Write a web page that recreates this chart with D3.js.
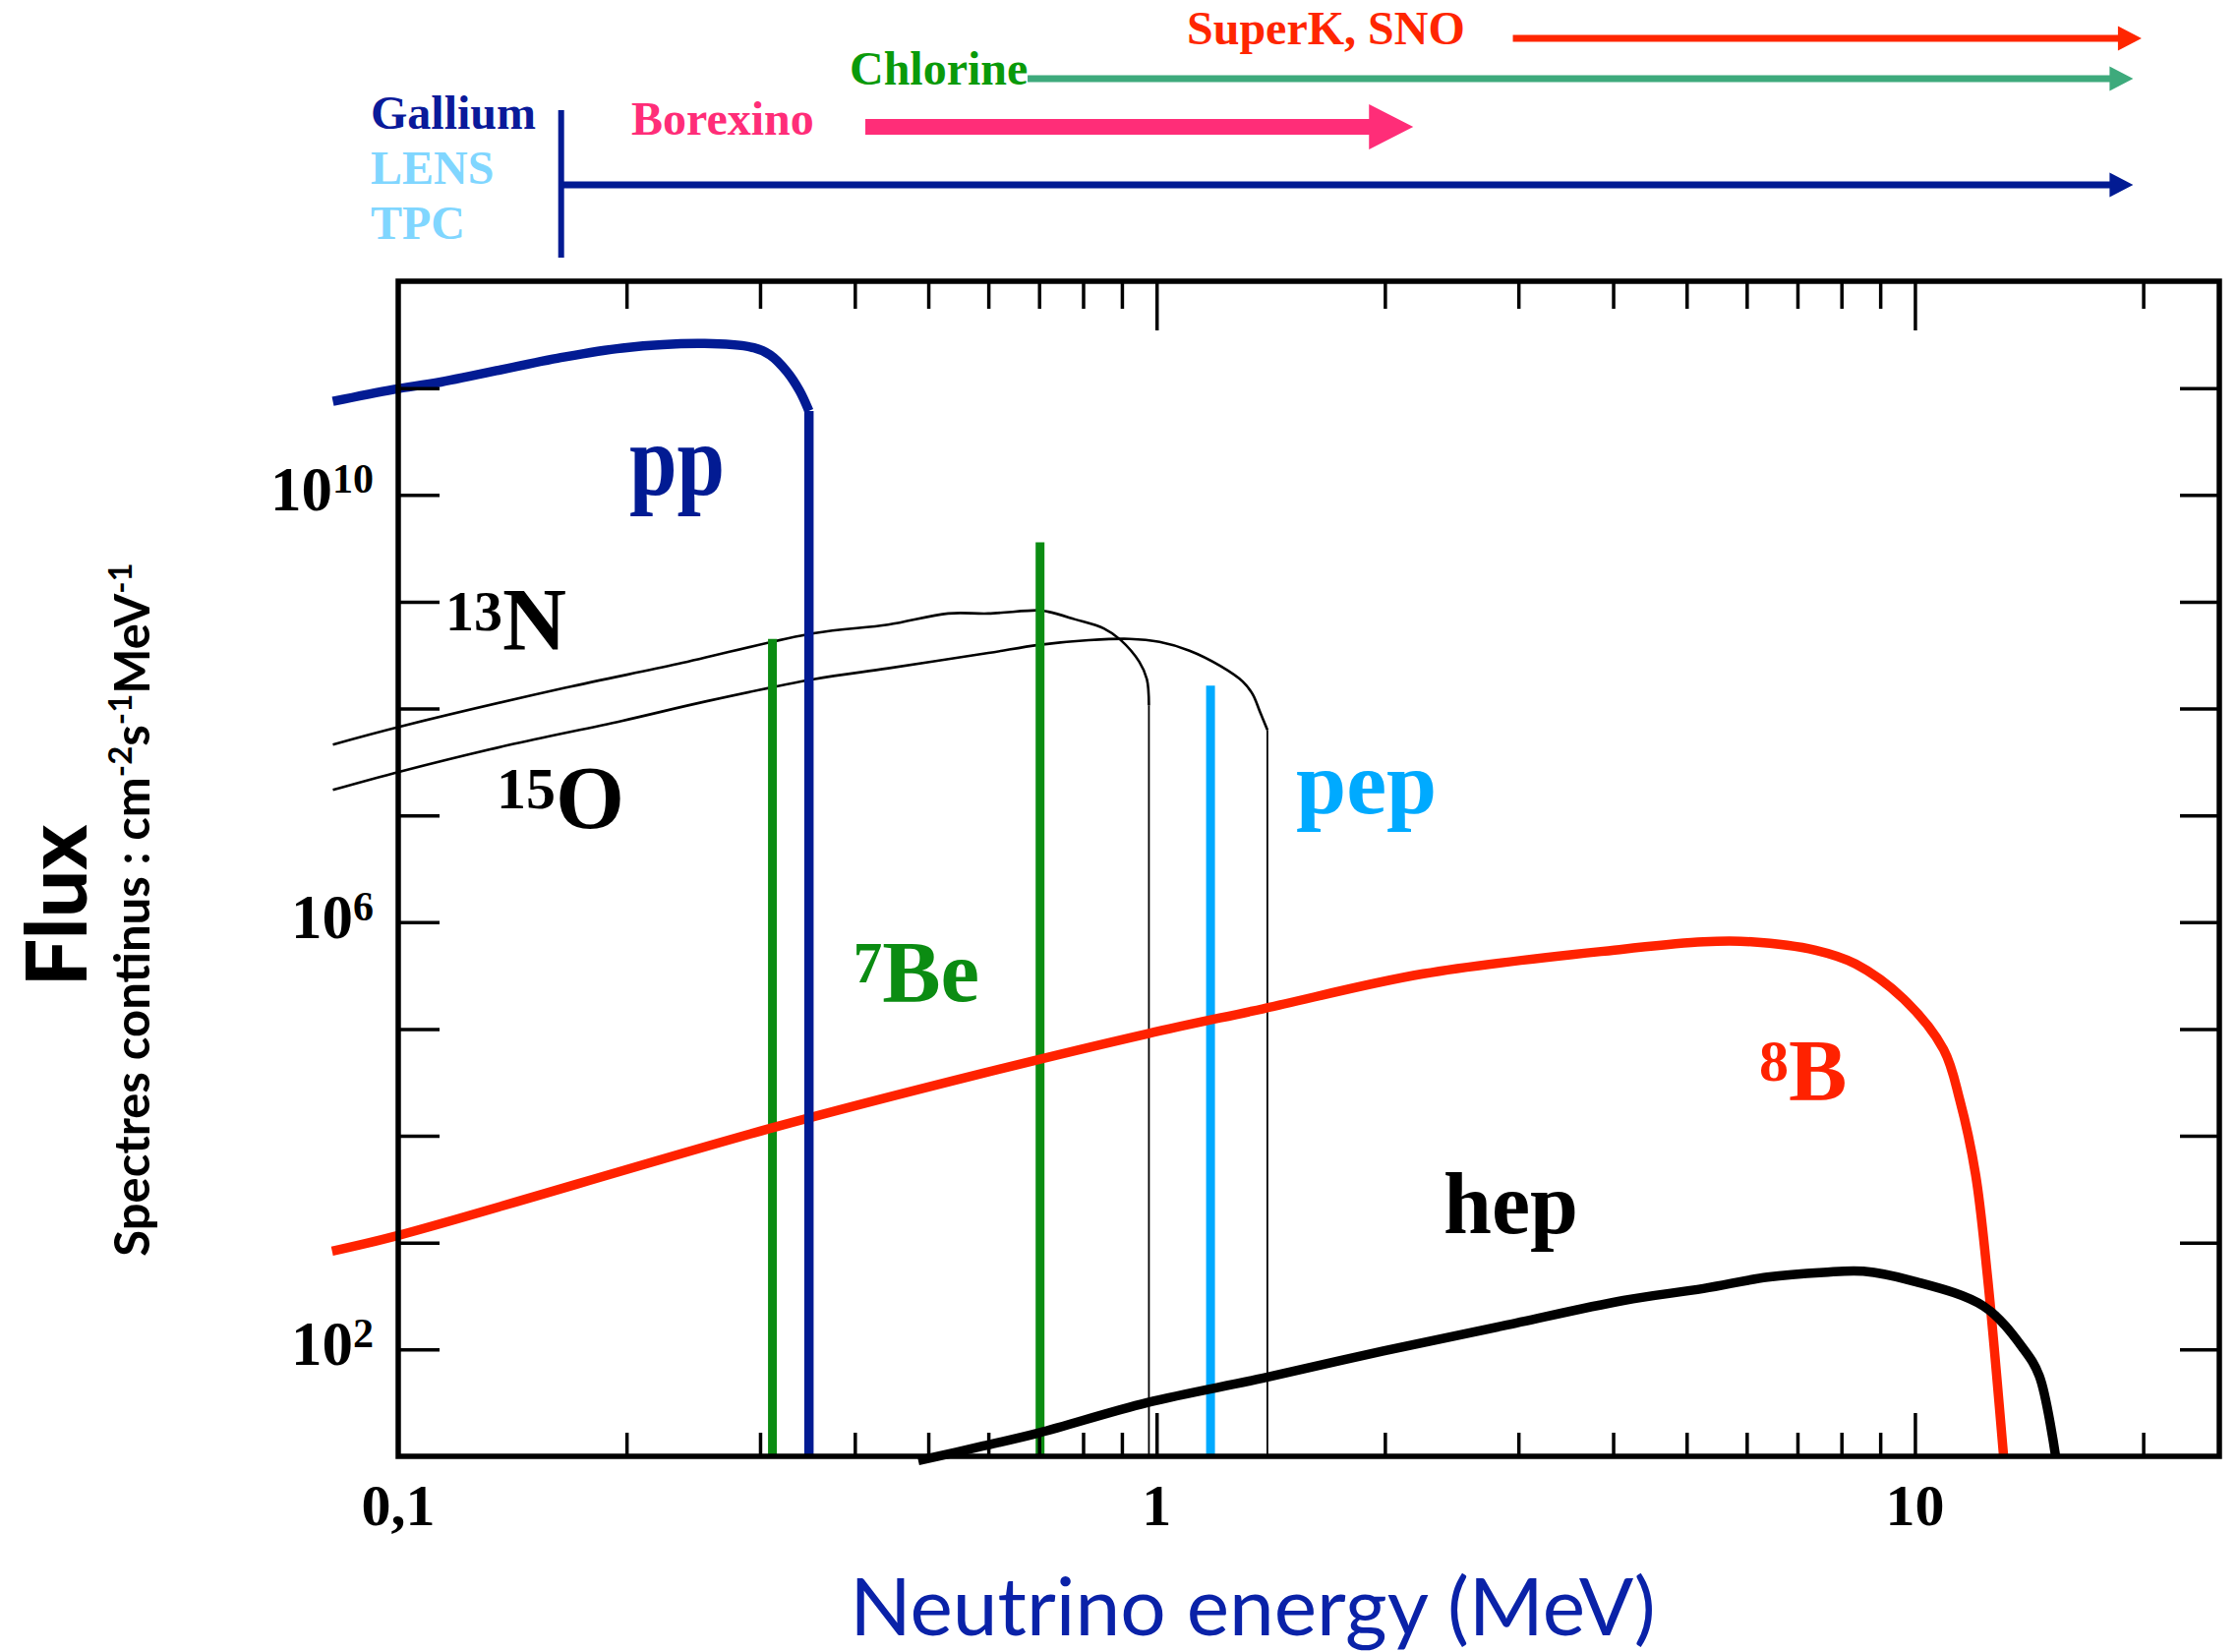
<!DOCTYPE html>
<html>
<head>
<meta charset="utf-8">
<script src="https://cdn.jsdelivr.net/npm/d3@7"></script>
<style>
  html, body { margin: 0; padding: 0; background: #fff; }
  svg { display: block; }
</style>
</head>
<body>
<svg id="chart" width="2276" height="1680"></svg>
<script>
// Solar neutrino spectra.
// energies in MeV, continuous fluxes in cm^-2 s^-1 MeV^-1, lines in cm^-2 s^-1

const ppE = [0.082, 0.0985, 0.1138, 0.1621, 0.1975, 0.2536, 0.2944, 0.3093, 0.3253, 0.3383, 0.348];
const ppF = [7.5e10, 9.7e10, 1.14e11, 1.9e11, 2.37e11, 2.61e11, 2.38e11, 2.04e11, 1.43e11, 9.4e10, 6.1e10];

const n13E = [0.082, 0.1008, 0.1658, 0.234, 0.353, 0.4425, 0.531, 0.600, 0.699, 0.720, 0.779, 0.852, 0.896, 0.949, 0.971, 0.977];
const n13F = [4.6e7, 6.8e7, 1.56e8, 2.62e8, 5.07e8, 6.1e8, 7.76e8, 7.76e8, 8.3e8, 8.05e8, 6.87e8, 5.62e8, 4.4e8, 2.73e8, 1.88e8, 1.07e8];

const o15E = [0.082, 0.1008, 0.1396, 0.197, 0.255, 0.353, 0.4425, 0.600, 0.699, 0.814, 0.921, 1.009, 1.105, 1.213, 1.299, 1.339, 1.369, 1.40];
const o15F = [1.73e7, 2.58e7, 4.54e7, 7.65e7, 1.17e8, 1.88e8, 2.38e8, 3.31e8, 3.94e8, 4.36e8, 4.49e8, 4.2e8, 3.48e8, 2.51e8, 1.79e8, 1.36e8, 9.3e7, 6.3e7];

const b8E = [0.0818, 0.1, 0.3115, 0.5906, 0.972, 1.383, 2.248, 4.128, 5.262, 6.085, 7.396, 8.351, 9.662, 10.91, 11.46, 12.02, 12.46, 13.09];
const b8F = [834, 1170, 1.19e4, 3.86e4, 9.03e4, 1.55e5, 3.29e5, 5.6e5, 6.56e5, 6.56e5, 5.47e5, 4.07e5, 1.91e5, 6.43e4, 2.16e4, 4.39e3, 497, 10];

const hepE = [0.485, 0.591, 0.700, 0.972, 1.383, 1.991, 2.868, 4.128, 5.262, 6.393, 7.578, 8.55, 9.90, 12.32, 13.91, 14.59, 15.33];
const hepF = [9.1, 12.5, 16.6, 31.8, 54, 96.8, 167, 288, 372, 476, 527, 540, 441, 254, 101, 56.4, 10];

// monoenergetic lines
const lineNames = ["7Be", "7Be", "pep"];
const lineE = [0.3115, 0.702, 1.178];
const lineF = [4.49e8, 3.6e9, 1.64e8];

// detector thresholds (arrows above the plot)
const detNames = ["SuperK, SNO", "Chlorine", "Borexino", "Gallium"];
const detFrom = [2.95, 0.676, 0.413, 0.164];
const detTo = [19.9, 19.4, 2.18, 19.4];

const xMinor = [0.2, 0.3, 0.4, 0.5, 0.6, 0.7, 0.8, 0.9, 2, 3, 4, 5, 6, 7, 8, 9, 20];
const xMajor = [1, 10];
const xLabels = [0.1, 1, 10];
const yDecades = [1e2, 1e3, 1e4, 1e5, 1e6, 1e7, 1e8, 1e9, 1e10, 1e11];
const yLabels = [2, 6, 10];

const SERIF = "'Liberation Serif', 'Times New Roman', serif";
const SANS = "Lato, 'Open Sans', sans-serif";

const svg = d3.select("#chart");
const L = 405, R = 2257, T = 286, B = 1481;

const x = d3.scaleLog().domain([0.1, 25.2]).range([L, R]);
const y = d3.scaleLog().domain([10, 1e12]).range([B, T]);

const zip = (a, b) => a.map((v, i) => [v, b[i]]);
const smooth = d3.line()
  .x(d => x(d[0])).y(d => y(d[1]))
  .curve(d3.curveCatmullRom.alpha(0.5));
const straight = d3.line().x(d => x(d[0])).y(d => y(d[1]));

const plot = svg.append("g");

function spectrum(E, F, color, width, dropWidth) {
  plot.append("path")
    .attr("d", smooth(zip(E, F)))
    .attr("fill", "none")
    .attr("stroke", color)
    .attr("stroke-width", width)
    .attr("stroke-linejoin", "round");
  if (dropWidth) {
    const last = E[E.length - 1];
    plot.append("path")
      .attr("d", straight([[last, F[F.length - 1]], [last, 10]]))
      .attr("stroke", color)
      .attr("stroke-width", dropWidth);
  }
}

// CNO spectra (thin)
spectrum(n13E, n13F, "#000", 2.6, 1.8);
spectrum(o15E, o15F, "#000", 2.6, 1.8);

// 7Be and pep lines
const lineColors = ["#0b8c12", "#0b8c12", "#00aaff"];
plot.selectAll("path.mono")
  .data(lineE)
  .join("path")
  .attr("class", "mono")
  .attr("d", (e, i) => straight([[e, lineF[i]], [e, 10]]))
  .attr("stroke", (e, i) => lineColors[i])
  .attr("stroke-width", 9);

spectrum(b8E, b8F, "#ff2200", 9.5);
spectrum(hepE, hepF, "#000", 9.5);
spectrum(ppE, ppF, "#021b93", 9.5, 9.5);

// frame and inward ticks
const tickStyle = g => {
  g.select(".domain").remove();
  g.selectAll(".tick line").attr("stroke", "#000").attr("stroke-width", 3.5);
};

svg.append("g").attr("transform", `translate(0,${B})`)
  .call(d3.axisBottom(x).tickValues(xMinor).tickSize(-24).tickFormat("")).call(tickStyle);
svg.append("g").attr("transform", `translate(0,${B})`)
  .call(d3.axisBottom(x).tickValues(xMajor).tickSize(-44).tickFormat("")).call(tickStyle);
svg.append("g").attr("transform", `translate(0,${T})`)
  .call(d3.axisTop(x).tickValues(xMinor).tickSize(-28).tickFormat("")).call(tickStyle);
svg.append("g").attr("transform", `translate(0,${T})`)
  .call(d3.axisTop(x).tickValues(xMajor).tickSize(-50).tickFormat("")).call(tickStyle);
svg.append("g").attr("transform", `translate(${L},0)`)
  .call(d3.axisLeft(y).tickValues(yDecades).tickSize(-42).tickFormat("")).call(tickStyle);
svg.append("g").attr("transform", `translate(${R},0)`)
  .call(d3.axisRight(y).tickValues(yDecades).tickSize(-40).tickFormat("")).call(tickStyle);

svg.append("rect")
  .attr("x", L).attr("y", T).attr("width", R - L).attr("height", B - T)
  .attr("fill", "none").attr("stroke", "#000").attr("stroke-width", 5.5);

// x tick labels
svg.selectAll("text.xlab")
  .data(xLabels)
  .join("text")
  .attr("class", "xlab")
  .attr("x", d => x(d))
  .attr("y", B + 70)
  .attr("text-anchor", "middle")
  .attr("font-family", SERIF)
  .attr("font-weight", "bold")
  .attr("font-size", 60)
  .text(d => String(d).replace(".", ","));

// y tick labels 10^n
const ylab = svg.selectAll("text.ylab")
  .data(yLabels)
  .join("text")
  .attr("class", "ylab")
  .attr("x", 380)
  .attr("y", d => y(Math.pow(10, d)) + 16)
  .attr("text-anchor", "end")
  .attr("font-family", SERIF)
  .attr("font-weight", "bold")
  .attr("font-size", 63);
ylab.append("tspan").text("10");
ylab.append("tspan").attr("font-size", 42).attr("dy", -18).text(d => d);

// axis titles
svg.append("text")
  .attr("transform", "translate(88,921) rotate(-90)")
  .attr("text-anchor", "middle")
  .attr("font-family", SANS)
  .attr("font-weight", 900)
  .attr("font-size", 86)
  .text("Flux");

const unit = svg.append("text")
  .attr("transform", "translate(152,925) rotate(-90)")
  .attr("text-anchor", "middle")
  .attr("font-family", SANS)
  .attr("font-weight", "bold")
  .attr("font-size", 49);
[["Spectres continus : cm", 0], ["-2", 1], ["s", 0], ["-1", 1], ["MeV", 0], ["-1", 1]]
  .forEach(([t, sup], i, arr) => {
    const prevSup = i > 0 && arr[i - 1][1];
    unit.append("tspan")
      .attr("font-size", sup ? 33 : 49)
      .attr("dy", sup ? -18 : (prevSup ? 18 : 0))
      .text(t);
  });

svg.append("text")
  .attr("x", 1274).attr("y", 1663)
  .attr("text-anchor", "middle")
  .attr("font-family", SANS)
  .attr("font-size", 82)
  .attr("fill", "#0a22a8")
  .text("Neutrino energy (MeV)");

// curve labels, anchored in data units
function label(e, f, sup, main, color, size, supSize, sx) {
  const t = svg.append("text")
    .attr("transform", `translate(${x(e)},${y(f)}) scale(${sx || 1},1)`)
    .attr("font-family", SERIF)
    .attr("font-weight", "bold")
    .attr("fill", color)
    .attr("font-size", size);
  if (sup) t.append("tspan").attr("font-size", supSize).attr("dy", -size * 0.22).text(sup);
  t.append("tspan").attr("dy", sup ? size * 0.22 : 0).text(main);
}
label(0.2017, 1.0e10, "", "pp", "#021b93", 104, 0, 0.84);
label(0.1154, 3.52e8, "13", "N", "#000", 90, 58);
label(0.1348, 7.6e6, "15", "O", "#000", 90, 60);
label(0.398, 1.82e5, "7", "Be", "#0b8c12", 89, 59);
label(1.527, 1.04e7, "", "pep", "#00aaff", 92, 0);
label(6.23, 2.18e4, "8", "B", "#ff2200", 89, 60);
label(2.39, 1.22e3, "", "hep", "#000", 88, 0);

// detector arrows
const detStyle = [
  { color: "#ff2600", text: "#ff2600", y: 39, w: 7, head: 24, hw: 12.5, tx: 1207, ty: 45 },
  { color: "#3eaa7c", text: "#0a9a0a", y: 80, w: 7, head: 24, hw: 12.5, tx: 864, ty: 86 },
  { color: "#ff2d78", text: "#ff2d78", y: 129, w: 16, head: 45, hw: 23, tx: 642, ty: 137 },
  { color: "#021b93", text: "#0a1a9a", y: 188, w: 7, head: 24, hw: 12.5, tx: 377, ty: 131 }
];

detNames.forEach((name, i) => {
  const s = detStyle[i];
  const x0 = x(detFrom[i]), x1 = x(detTo[i]), hx = x1 - s.head;
  svg.append("path")
    .attr("d", `M${x0},${s.y - s.w / 2}H${hx}V${s.y - s.hw}L${x1},${s.y}L${hx},${s.y + s.hw}V${s.y + s.w / 2}H${x0}Z`)
    .attr("fill", s.color);
  svg.append("text")
    .attr("x", s.tx).attr("y", s.ty)
    .attr("font-family", SERIF)
    .attr("font-weight", "bold")
    .attr("font-size", 48)
    .attr("fill", s.text)
    .text(name);
});

// gallium threshold bar
svg.append("line")
  .attr("x1", x(detFrom[3])).attr("x2", x(detFrom[3]))
  .attr("y1", 112).attr("y2", 262)
  .attr("stroke", "#021b93").attr("stroke-width", 6);

["LENS", "TPC"].forEach((t, i) =>
  svg.append("text")
    .attr("x", 377).attr("y", 187 + i * 56)
    .attr("font-family", SERIF)
    .attr("font-weight", "bold")
    .attr("font-size", 48)
    .attr("fill", "#80d6ff")
    .text(t)
);
</script>
</body>
</html>
